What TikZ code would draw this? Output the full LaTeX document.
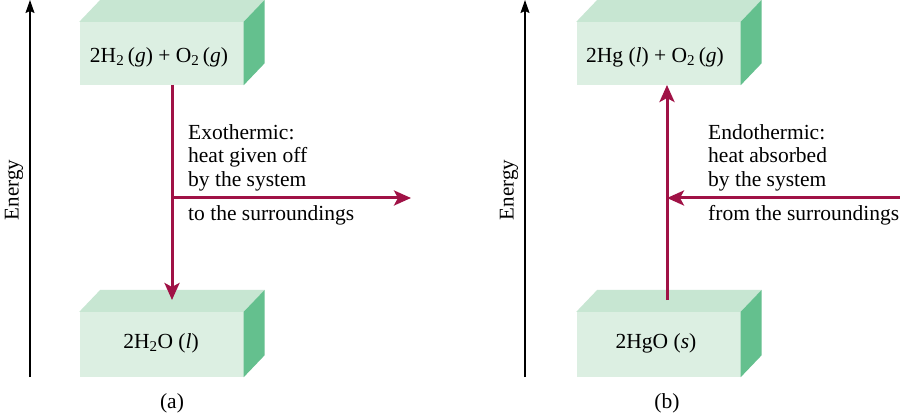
\documentclass[tikz,border=0pt]{standalone}
\usepackage{fontspec}
\setmainfont{Liberation Serif}
\usetikzlibrary{arrows.meta,calc}
\definecolor{frontc}{RGB}{220,239,226}
\definecolor{topc}{RGB}{199,230,210}
\definecolor{sidec}{RGB}{100,192,142}
\definecolor{heatred}{RGB}{160,18,70}
\tikzset{
  front/.style={fill=frontc,minimum width=164pt,inner sep=0pt},
  heatarrow/.style={draw=heatred,line width=3pt,-{Stealth[length=17pt,width=15pt,inset=4pt]}},
  axisarrow/.style={draw=black,line width=1.4pt,-{Stealth[length=13pt,width=9pt,inset=2pt]}},
  lbl/.style={font=\fontsize{21.5}{23.5}\selectfont,inner sep=0pt,align=left,anchor=north west},
  elbl/.style={font=\fontsize{21}{24}\selectfont,inner sep=0pt,rotate=90},
  txtlbl/.style={font=\fontsize{21.5}{24}\selectfont,inner sep=0pt}
}
\newcommand{\boxfaces}[1]{%
  \fill[topc] (#1.north west) -- ++(21,-22) -- ($(#1.north east)+(21,-22)$) -- (#1.north east) -- cycle;
  \fill[sidec] (#1.north east) -- ++(21,-22) -- ($(#1.south east)+(21,-22)$) -- (#1.south east) -- cycle;
}
\begin{document}
\begin{tikzpicture}[x=1pt,y=-1pt]
\useasboundingbox[fill=white] (0,0) rectangle (900,414);
% ---------- panel (a) ----------
\coordinate (axA0) at (30,377);
\coordinate (axA1) at (30,0);
\draw[axisarrow] (axA0) -- (axA1);
\node[elbl] (enA) at (14,190) {Energy};

\node[front,minimum height=63pt] (a1) at (161.5,53.5) {};
\boxfaces{a1}
\node[txtlbl] (a1t) at (159,57) {2H\textsubscript{2}\,(\textit{g}) + O\textsubscript{2}\,(\textit{g})};

\node[front,minimum height=65pt] (a2) at (161.5,344.5) {};
\boxfaces{a2}
\node[txtlbl] (a2t) at (161,343) {2H\textsubscript{2}O (\textit{l})};

\coordinate (aS) at (172,85);
\coordinate (aE) at (172,300);
\coordinate (aH) at (172,198);
\coordinate (aH2) at (411,198);
\draw[heatarrow] (aS) -- (aE);
\draw[heatarrow] (aH) -- (aH2);
\node[lbl] (exo) at (188,124) {Exothermic:\\heat given off\\by the system};
\node[lbl] (exo2) at (188,205) {to the surroundings};
\node[txtlbl] (capA) at (172,403) {(a)};

% ---------- panel (b) ----------
\coordinate (axB0) at (525,377);
\coordinate (axB1) at (525,0);
\draw[axisarrow] (axB0) -- (axB1);
\node[elbl] (enB) at (509,190) {Energy};

\node[front,minimum height=63pt] (b1) at (658.5,53.5) {};
\boxfaces{b1}
\node[txtlbl] (b1t) at (655,57) {2Hg (\textit{l}) + O\textsubscript{2}\,(\textit{g})};

\node[front,minimum height=65pt] (b2) at (658.5,344.5) {};
\boxfaces{b2}
\node[txtlbl] (b2t) at (656,343) {2HgO (\textit{s})};

\coordinate (bS) at (667,300);
\coordinate (bE) at (667,85);
\coordinate (bH) at (900,198);
\coordinate (bH2) at (667,198);
\draw[heatarrow] (bS) -- (bE);
\draw[heatarrow] (bH) -- (bH2);
\node[lbl] (endo) at (708,124) {Endothermic:\\heat absorbed\\by the system};
\node[lbl] (endo2) at (708,205) {from the surroundings};
\node[txtlbl] (capB) at (667,403) {(b)};
\end{tikzpicture}
\end{document}
